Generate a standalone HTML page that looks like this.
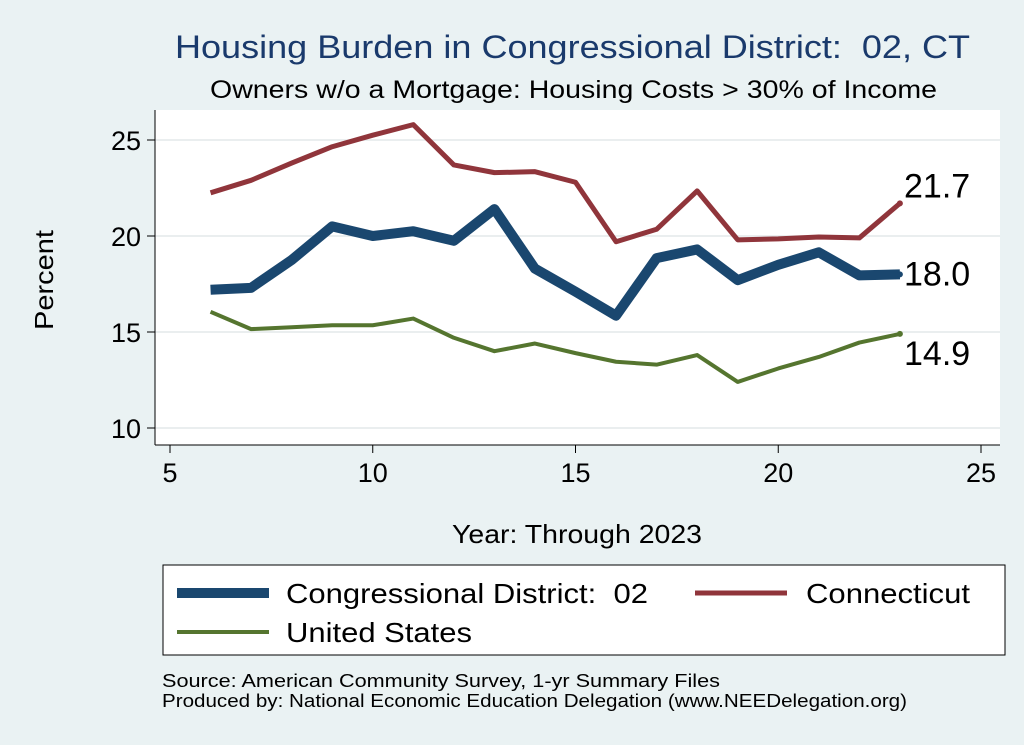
<!DOCTYPE html>
<html><head><meta charset="utf-8"><style>
body{margin:0;background:#eaf2f3;}
svg{display:block;font-family:"Liberation Sans",Arial,sans-serif;}
text{white-space:pre;}
</style></head><body>
<svg id="chart" width="1024" height="745" viewBox="0 0 1024 745">
<rect x="0" y="0" width="1024" height="745" fill="#eaf2f3"/>
<text x="175" y="58" font-size="32" textLength="795" lengthAdjust="spacingAndGlyphs" fill="#1a3a6c">Housing Burden in Congressional District:  02, CT</text>
<text x="210" y="98" font-size="25" textLength="727" lengthAdjust="spacingAndGlyphs" fill="#000">Owners w/o a Mortgage: Housing Costs &gt; 30% of Income</text>
<rect x="155" y="110" width="845" height="335" fill="#fff"/>
<g id="grid"></g>
<g id="axes"></g>
<g id="series"></g>
<text x="53" y="280" text-anchor="middle" font-size="26" textLength="100" lengthAdjust="spacingAndGlyphs" transform="rotate(-90 53 280)">Percent</text>
<text x="452" y="543" font-size="26" textLength="250" lengthAdjust="spacingAndGlyphs">Year: Through 2023</text>
<g>
<rect x="163" y="565" width="842" height="90" fill="#fff" stroke="#000" stroke-width="1"/>
<line x1="177" y1="593" x2="269" y2="593" stroke="#1a476f" stroke-width="10"/>
<text x="286" y="603" font-size="28" textLength="362" lengthAdjust="spacingAndGlyphs">Congressional District:  02</text>
<line x1="695" y1="593" x2="787" y2="593" stroke="#90353b" stroke-width="5"/>
<text x="806" y="603" font-size="28" textLength="164" lengthAdjust="spacingAndGlyphs">Connecticut</text>
<line x1="177" y1="632" x2="269" y2="632" stroke="#55752f" stroke-width="4"/>
<text x="286" y="642" font-size="28" textLength="186" lengthAdjust="spacingAndGlyphs">United States</text>
</g>
<text x="162" y="687" font-size="18" textLength="558" lengthAdjust="spacingAndGlyphs">Source: American Community Survey, 1-yr Summary Files</text>
<text x="162" y="707" font-size="18" textLength="745" lengthAdjust="spacingAndGlyphs">Produced by: National Economic Education Delegation (www.NEEDelegation.org)</text>
</svg>
<script>
const years=[6,7,8,9,10,11,12,13,14,15,16,17,18,19,20,21,22,23];
const district=[17.2,17.3,18.75,20.5,20.0,20.25,19.75,21.4,18.3,17.1,15.85,18.85,19.3,17.7,18.5,19.15,17.95,18.0];
const connecticut=[22.25,22.9,23.8,24.65,25.25,25.8,23.7,23.3,23.35,22.8,19.7,20.35,22.35,19.8,19.85,19.95,19.9,21.7];
const unitedStates=[16.05,15.15,15.25,15.35,15.35,15.7,14.7,14.0,14.4,13.9,13.45,13.3,13.8,12.4,13.1,13.7,14.45,14.9];
const xTicks=[5,10,15,20,25];
const yTicks=[10,15,20,25];
const NS="http://www.w3.org/2000/svg";
function xs(v){return 170+(v-5)*(981-170)/20;}
function ys(v){return 428-(v-10)*(428-140)/15;}
function mk(tag,attrs,parent){const e=document.createElementNS(NS,tag);for(const k in attrs)e.setAttribute(k,attrs[k]);document.getElementById(parent).appendChild(e);return e;}
yTicks.forEach(t=>{
 const g=mk('line',{x1:155,x2:1000,y1:ys(t),y2:ys(t),stroke:'#e4e8ea','stroke-width':1.5},'grid');
 
 
 const tk=mk('line',{x1:147,x2:155,y1:ys(t),y2:ys(t),stroke:'#000'},'axes');
 
 
 const tx=mk('text',{x:141,y:ys(t)+10,'text-anchor':'end','font-size':27},'axes');
 tx.textContent=t;
 
 
});
mk('line',{x1:155,x2:155,y1:110,y2:445,stroke:'#000'},'axes');
mk('line',{x1:155,x2:1000,y1:445,y2:445,stroke:'#000'},'axes');
xTicks.forEach(t=>{
 const tk=mk('line',{x1:xs(t),x2:xs(t),y1:445,y2:453,stroke:'#000'},'axes');
 
 
 const tx=mk('text',{x:xs(t),y:482,'text-anchor':'middle','font-size':27},'axes');
 tx.textContent=t;
 
 
});
function line(vals,color,w,name){
 const d=vals.map((v,i)=>(i?'L':'M')+xs(years[i])+','+ys(v)).join(' ');
 const p=mk('path',{d:d,fill:'none',stroke:color,'stroke-width':w,'stroke-linejoin':'round'},'series');
 
 
 const last=vals[vals.length-1];
 const c=mk('circle',{cx:xs(years[years.length-1]),cy:ys(last),r:3,fill:color},'series');
 
 
 return last;
}
const lc=line(connecticut,'#90353b',5,'line-connecticut');
const ld=line(district,'#1a476f',10,'line-district');
const lu=line(unitedStates,'#55752f',4,'line-us');
[[lc,-6,'label-connecticut'],[ld,11,'label-district'],[lu,31,'label-us']].forEach(a=>{
 const t=mk('text',{x:904,y:ys(a[0])+a[1],'font-size':34},'series');
 t.textContent=a[0].toFixed(1);
 
 
});
</script>
</body></html>
